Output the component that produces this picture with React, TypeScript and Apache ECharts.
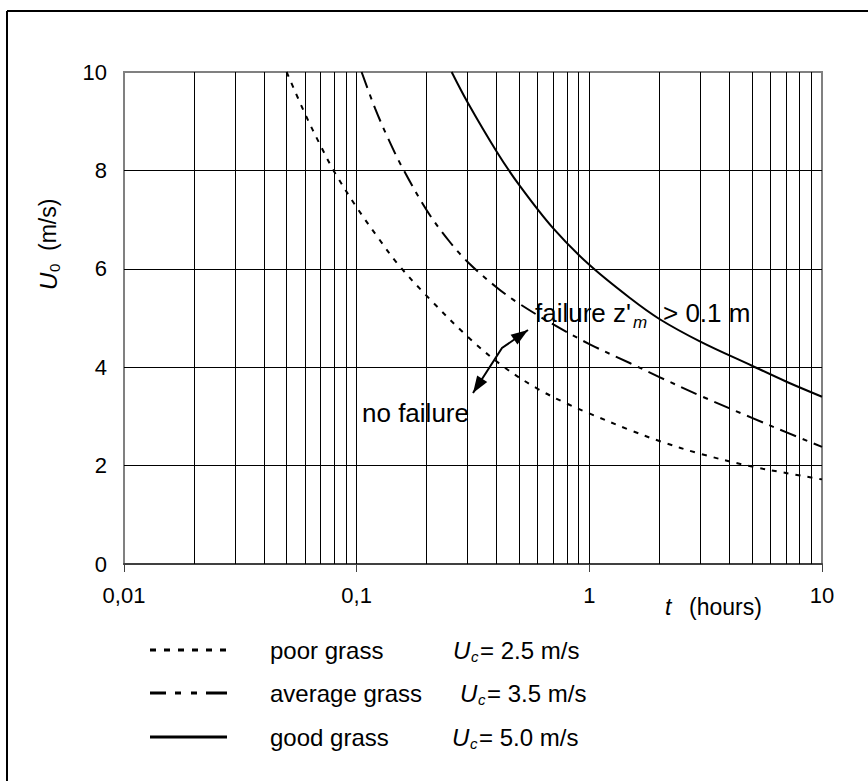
import React, { useEffect, useRef } from "react";
import * as echarts from "echarts";

// ---- data ----
const poorT = [0.05, 0.06, 0.07, 0.08, 0.1, 0.125, 0.15, 0.2, 0.3, 0.425, 0.6, 0.8, 1, 1.5, 2, 3, 5, 7, 10];
const poorU = [10, 9.15, 8.5, 7.98, 7.25, 6.6, 6.1, 5.45, 4.62, 4.02, 3.56, 3.26, 3.06, 2.72, 2.5, 2.24, 1.98, 1.85, 1.72];

const avgT = [0.105, 0.12, 0.135, 0.155, 0.2, 0.25, 0.3, 0.4, 0.5, 0.7, 1, 1.5, 2, 3, 5, 7, 10];
const avgU = [10, 9.26, 8.7, 8.11, 7.19, 6.56, 6.14, 5.62, 5.29, 4.87, 4.47, 4.08, 3.8, 3.42, 2.97, 2.68, 2.38];

const goodT = [0.256, 0.3, 0.4, 0.5, 0.7, 1, 1.5, 2, 3, 5, 7, 10];
const goodU = [10, 9.38, 8.38, 7.7, 6.82, 6.08, 5.4, 4.98, 4.52, 4.03, 3.71, 3.4];

const xTickLabels = ["0,01", "0,1", "1", "10"];
const decades = [0.01, 0.1, 1];
const minorMultipliers = [2, 3, 4, 5, 6, 7, 8, 9];
const yGridValues = [2, 4, 6, 8];

const seriesNames = ["poor grass", "average grass", "good grass"];
const seriesUc = ["2.5 m/s", "3.5 m/s", "5.0 m/s"];

const FONT = "'Liberation Sans', Arial, sans-serif";

function zip(t: number[], u: number[]) {
  return t.map((v, i) => [v, u[i]]);
}

function arrowHead(tip: number[], from: number[], len: number, half: number) {
  const dx = tip[0] - from[0];
  const dy = tip[1] - from[1];
  const l = Math.sqrt(dx * dx + dy * dy);
  const ux = dx / l;
  const uy = dy / l;
  const bx = tip[0] - ux * len;
  const by = tip[1] - uy * len;
  const px = -uy * half;
  const py = ux * half;
  return [tip, [bx + px, by + py], [bx - px, by - py]];
}

export default function App() {
  const ref = useRef<HTMLDivElement>(null);

  useEffect(() => {
    document.body.style.margin = "0";
    const chart = echarts.init(ref.current!, null, { renderer: "svg" });

    const verticalGrid: any[] = [];
    decades.forEach((d, i) => {
      if (i > 0) verticalGrid.push({ xAxis: d });
      minorMultipliers.forEach((m) => verticalGrid.push({ xAxis: +(d * m).toPrecision(6) }));
    });
    const horizontalGrid = yGridValues.map((v) => ({ yAxis: v }));

    const dashes: any[] = [
      { type: [5, 7], width: 2 },
      { type: [17, 7, 5, 7], width: 2 },
      { type: "solid", width: 2 },
    ];
    const legendDashes: any[] = [
      [6, 8],
      [16, 9, 6, 10, 6, 9, 21, 50],
      null,
    ];

    // annotation arrow (pixel layout)
    const A = [473, 393];
    const B = [502, 348];
    const C = [528, 330];

    const legendY = [650, 693, 737];
    const ucX = [453, 460, 452];

    const graphic: any[] = [
      // outer frame (top and left)
      { type: "line", shape: { x1: 7, y1: 11, x2: 868, y2: 11 }, style: { stroke: "#000", lineWidth: 2 } },
      { type: "line", shape: { x1: 7, y1: 11, x2: 7, y2: 781 }, style: { stroke: "#000", lineWidth: 2 } },
      // y axis title (rotated)
      {
        type: "group",
        x: 48,
        y: 290,
        rotation: Math.PI / 2,
        children: [
          { type: "text", x: 0, y: 0, style: { text: "U", font: `italic 24px ${FONT}`, fill: "#000", textVerticalAlign: "middle" } },
          { type: "text", x: 18, y: 6, style: { text: "0", font: `15px ${FONT}`, fill: "#000", textVerticalAlign: "middle" } },
          { type: "text", x: 39, y: 0, style: { text: "(m/s)", font: `23px ${FONT}`, fill: "#000", textVerticalAlign: "middle" } },
        ],
      },
      // x axis title
      { type: "text", x: 665, y: 607, style: { text: "t", font: `italic 23px ${FONT}`, fill: "#000", textVerticalAlign: "middle" } },
      { type: "text", x: 689, y: 607, style: { text: "(hours)", font: `23px ${FONT}`, fill: "#000", textVerticalAlign: "middle" } },
      // annotations
      { type: "text", x: 535, y: 313, style: { text: "failure z'", font: `26px ${FONT}`, fill: "#000", textVerticalAlign: "middle" } },
      { type: "text", x: 633, y: 322, style: { text: "m", font: `italic 17px ${FONT}`, fill: "#000", textVerticalAlign: "middle" } },
      { type: "text", x: 663, y: 313, style: { text: "> 0.1 m", font: `26px ${FONT}`, fill: "#000", textVerticalAlign: "middle" } },
      { type: "text", x: 362, y: 413, style: { text: "no failure", font: `26px ${FONT}`, fill: "#000", textVerticalAlign: "middle" } },
      { type: "polyline", shape: { points: [A, B, C] }, style: { stroke: "#000", lineWidth: 2, fill: "none" } },
      { type: "polygon", shape: { points: arrowHead(A, B, 17, 6) }, style: { fill: "#000" } },
      { type: "polygon", shape: { points: arrowHead(C, B, 17, 6) }, style: { fill: "#000" } },
    ];

    // legend
    seriesNames.forEach((name, i) => {
      const y = legendY[i];
      graphic.push({
        type: "line",
        shape: { x1: 150, y1: y, x2: 227, y2: y },
        style: { stroke: "#000", lineWidth: 3, lineDash: legendDashes[i] },
      });
      graphic.push({ type: "text", x: 270, y: y, style: { text: name, font: `24px ${FONT}`, fill: "#000", textVerticalAlign: "middle" } });
      graphic.push({ type: "text", x: ucX[i], y: y, style: { text: "U", font: `italic 24px ${FONT}`, fill: "#000", textVerticalAlign: "middle" } });
      graphic.push({ type: "text", x: ucX[i] + 18, y: y + 6, style: { text: "c", font: `italic 15px ${FONT}`, fill: "#000", textVerticalAlign: "middle" } });
      graphic.push({ type: "text", x: ucX[i] + 27, y: y, style: { text: "= " + seriesUc[i], font: `24px ${FONT}`, fill: "#000", textVerticalAlign: "middle" } });
    });

    const data = [zip(poorT, poorU), zip(avgT, avgU), zip(goodT, goodU)];

    chart.setOption({
      animation: false,
      backgroundColor: "#fff",
      textStyle: { fontFamily: FONT },
      grid: {
        left: 124,
        top: 72,
        right: 46,
        bottom: 217,
        show: true,
        borderColor: "#808080",
        borderWidth: 2,
        backgroundColor: "transparent",
      },
      xAxis: {
        type: "log",
        logBase: 10,
        min: 0.01,
        max: 10,
        axisLine: { show: true, lineStyle: { color: "#404040", width: 2 } },
        axisTick: { show: true, length: 8, lineStyle: { color: "#404040", width: 1 } },
        axisLabel: {
          color: "#000",
          fontSize: 22,
          fontFamily: FONT,
          margin: 20,
          formatter: (_v: number, idx: number) => xTickLabels[idx] ?? "",
        },
        splitLine: { show: false },
        minorTick: { show: false },
      },
      yAxis: {
        type: "value",
        min: 0,
        max: 10,
        interval: 2,
        axisLine: { show: true, lineStyle: { color: "#808080", width: 2 } },
        axisTick: { show: false },
        axisLabel: { color: "#000", fontSize: 22, fontFamily: FONT, margin: 17 },
        splitLine: { show: false },
      },
      series: [
        {
          name: "grid",
          type: "line",
          data: [],
          silent: true,
          markLine: {
            silent: true,
            symbol: "none",
            label: { show: false },
            animation: false,
            lineStyle: { color: "#000", width: 1, type: "solid" },
            data: [...verticalGrid, ...horizontalGrid],
          },
        },
        ...seriesNames.map((name, i) => ({
          name,
          type: "line",
          data: data[i],
          showSymbol: false,
          symbol: "none",
          smooth: 0.35,
          z: 5,
          lineStyle: { color: "#000", width: dashes[i].width, type: dashes[i].type },
        })),
      ],
      graphic,
    });

    return () => chart.dispose();
  }, []);

  return <div ref={ref} style={{ position: "fixed", left: 0, top: 0, width: 868, height: 781 }} />;
}
